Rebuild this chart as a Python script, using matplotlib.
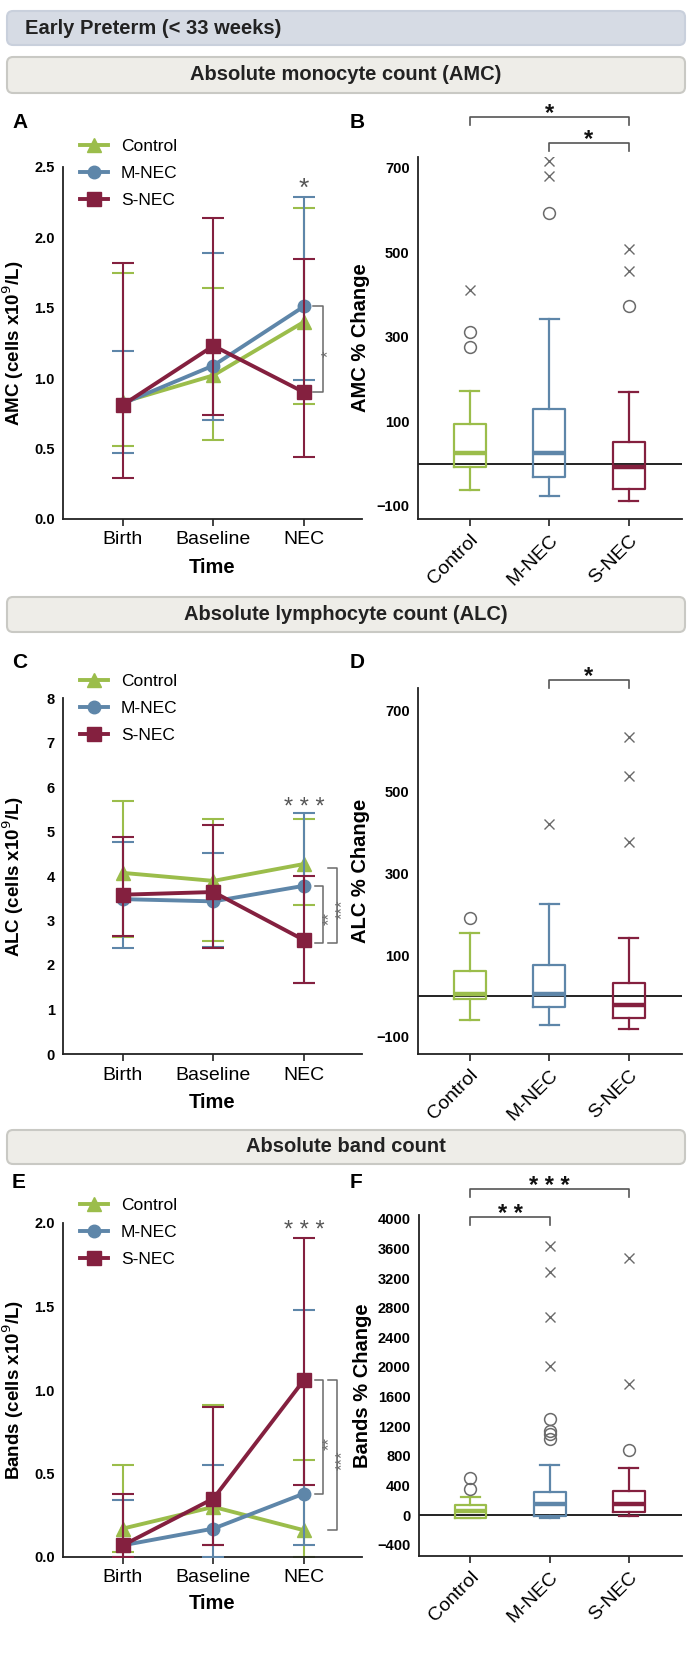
import matplotlib
matplotlib.use("Agg")
import matplotlib.pyplot as plt
from matplotlib.patches import FancyBboxPatch

plt.rcParams['font.family'] = ['Liberation Sans', 'DejaVu Sans']

W, H = 695, 1653

GREEN = '#9bbd4b'
BLUE = '#5e86a9'
MAROON = '#84203f'
GREY = '#6a6a6a'

times = ['Birth', 'Baseline', 'NEC']
groups = ['Control', 'M-NEC', 'S-NEC']

# Panel A - AMC over time (mean with low / high error bar ends)
amc_control = [0.83, 1.02, 1.40]
amc_control_lo = [0.52, 0.56, 0.82]
amc_control_hi = [1.75, 1.64, 2.21]
amc_mnec = [0.82, 1.09, 1.51]
amc_mnec_lo = [0.47, 0.70, 0.99]
amc_mnec_hi = [1.19, 1.89, 2.29]
amc_snec = [0.81, 1.23, 0.90]
amc_snec_lo = [0.29, 0.74, 0.44]
amc_snec_hi = [1.82, 2.14, 1.85]

# Panel C - ALC over time
alc_control = [4.07, 3.89, 4.27]
alc_control_lo = [2.62, 2.54, 3.35]
alc_control_hi = [5.68, 5.29, 5.29]
alc_mnec = [3.48, 3.43, 3.78]
alc_mnec_lo = [2.38, 2.40, 1.60]
alc_mnec_hi = [4.76, 4.52, 5.41]
alc_snec = [3.58, 3.64, 2.56]
alc_snec_lo = [2.65, 2.39, 1.60]
alc_snec_hi = [4.87, 5.14, 3.99]

# Panel E - bands over time
band_control = [0.17, 0.30, 0.16]
band_control_lo = [0.03, 0.07, 0.0]
band_control_hi = [0.55, 0.91, 0.58]
band_mnec = [0.07, 0.17, 0.38]
band_mnec_lo = [0.0, 0.0, 0.07]
band_mnec_hi = [0.34, 0.55, 1.48]
band_snec = [0.07, 0.35, 1.06]
band_snec_lo = [0.0, 0.07, 0.43]
band_snec_hi = [0.38, 0.90, 1.91]

# Panel B - AMC % change boxes: whislo, q1, median, q3, whishi
amc_box = [[-63, -7, 26, 94, 172],
           [-76, -31, 26, 130, 343],
           [-88, -61, -9, 51, 170]]
amc_circles = [[311, 277], [593], [373]]
amc_crosses = [[412], [717, 680], [508, 457]]

# Panel D - ALC % change
alc_box = [[-58, -7, 6, 61, 155],
           [-71, -27, 6, 76, 224],
           [-81, -54, -22, 31, 141]]
alc_circles = [[192], [], []]
alc_crosses = [[], [422], [635, 539, 376]]

# Panel F - bands % change
band_box = [[-40, -36, 54, 135, 239],
            [-45, -14, 144, 315, 680],
            [-14, 36, 144, 329, 635]]
band_circles = [[351, 505], [1297, 1130, 1090, 1030], [878]]
band_crosses = [[], [3640, 3284, 2676, 2014], [3468, 1766]]


def rect(x0, y0, x1, y1):
    return [x0 / W, 1 - y1 / H, (x1 - x0) / W, (y1 - y0) / H]


def style_axes(ax):
    for s in ['top', 'right']:
        ax.spines[s].set_visible(False)
    for s in ['left', 'bottom']:
        ax.spines[s].set_linewidth(1.3)
        ax.spines[s].set_color('#222222')
    ax.tick_params(axis='y', length=0, pad=6, labelsize=10.5)
    ax.tick_params(axis='x', length=5, width=1.2, color='#222222', pad=4)
    for lab in ax.get_yticklabels():
        lab.set_fontweight('bold')


def line_panel(ax, series, ylim, yticks, yticklabels, ylabel, legend_top):
    x = list(range(len(times)))
    for i, (name, mean, lo, hi, color, marker, ms) in enumerate(series):
        err = [[m - l for m, l in zip(mean, lo)], [h - m for m, h in zip(mean, hi)]]
        ax.errorbar(x, mean, yerr=err, fmt='none', ecolor=color, elinewidth=1.5,
                    capsize=8, capthick=1.5, zorder=2 + 2 * i)
        ax.plot(x, mean, color=color, lw=2.8, marker=marker, ms=ms, label=name,
                zorder=3 + 2 * i)
    ax.set_xlim(-0.66, 2.64)
    ax.set_ylim(*ylim)
    ax.set_yticks(yticks)
    ax.set_yticklabels(yticklabels)
    ax.set_xticks(x)
    ax.set_xticklabels(times, fontsize=14)
    style_axes(ax)
    ax.set_ylabel(ylabel, fontsize=13.5, fontweight='bold')
    ax.yaxis.set_label_coords(-0.125, 0.5)
    ax.set_xlabel('Time', fontsize=14.5, fontweight='bold')
    ax.xaxis.set_label_coords(0.5, -0.11)
    ax.legend(loc='upper left', bbox_to_anchor=(80 / W, 1 - legend_top / H),
              bbox_transform=fig.transFigure, frameon=False, fontsize=12.5,
              handlelength=1.6, handletextpad=0.75, labelspacing=0.68,
              borderpad=0, borderaxespad=0)


def star(ax, x, y, text, size, color, weight='normal', rot=0):
    ax.annotate(text, xy=(x, y), xytext=(0, -size * 0.28), textcoords='offset points',
                ha='center', va='center', fontsize=size, color=color,
                fontweight=weight, rotation=rot, annotation_clip=False)


def side_bracket(ax, x0, x1, ytop, ybot):
    ax.plot([x0, x1, x1, x0], [ytop, ytop, ybot, ybot], color=GREY, lw=1.1,
            clip_on=False, zorder=1)


def box_panel(ax, box, circles, crosses, ylim, yticks, ylabel, leg):
    colors = [GREEN, BLUE, MAROON]
    stats = []
    for name, (wlo, q1, med, q3, whi) in zip(groups, box):
        stats.append(dict(label=name, whislo=wlo, q1=q1, med=med, q3=q3,
                          whishi=whi, fliers=[]))
    ax.axhline(0, color='#111111', lw=1.3, zorder=1)
    art = ax.bxp(stats, positions=[0, 1, 2], widths=0.4, showfliers=False,
                 manage_ticks=False)
    for i, c in enumerate(colors):
        art['boxes'][i].set(color=c, lw=1.6, zorder=3)
        art['medians'][i].set(color=c, lw=3.2, zorder=4)
        for k in (2 * i, 2 * i + 1):
            art['whiskers'][k].set(color=c, lw=1.6)
            art['caps'][k].set(color=c, lw=1.6)
            art['caps'][k].set_xdata([i - 0.12, i + 0.12])
        ax.plot([i] * len(circles[i]), circles[i], ls='none', marker='o', ms=8.5,
                mfc='none', mec=GREY, mew=1.1)
        ax.plot([i] * len(crosses[i]), crosses[i], ls='none', marker='x', ms=6.5,
                color=GREY, mew=1.0)
    ax.set_xlim(-0.65, 2.67)
    ax.set_ylim(*ylim)
    ax.set_yticks(yticks)
    ax.set_xticks([0, 1, 2])
    ax.set_xticklabels(groups, fontsize=14, rotation=45, ha='right',
                       rotation_mode='anchor')
    style_axes(ax)
    ax.set_ylabel(ylabel, fontsize=14.5, fontweight='bold')
    ax.yaxis.set_label_coords(-0.18, 0.5)
    # significance brackets above the plot
    for g0, g1, yb, leg_len, txt, ys in leg:
        ax.plot([g0, g0, g1, g1], [yb - leg_len, yb, yb, yb - leg_len],
                color='#555555', lw=1.2, clip_on=False)
        star(ax, (g0 + g1) / 2, ys, txt, 17, '#111111', 'bold')


fig = plt.figure(figsize=(W / 100, H / 100), dpi=100)

# background layer for title boxes and panel letters
bg = fig.add_axes([0, 0, 1, 1], zorder=-5)
bg.set_xlim(0, W)
bg.set_ylim(H, 0)
bg.axis('off')
bg.add_patch(FancyBboxPatch((7, 11), 678, 34, boxstyle='round,pad=0,rounding_size=6',
                            fc='#d6dbe4', ec='#c9d0dc', lw=1.5))
bg.text(25, 28, 'Early Preterm (< 33 weeks)', fontsize=14.5, fontweight='bold',
        va='center', ha='left', color='#222222')
for y0, y1, title in [(57, 93, 'Absolute monocyte count (AMC)'),
                      (597, 632, 'Absolute lymphocyte count (ALC)'),
                      (1130, 1164, 'Absolute band count')]:
    bg.add_patch(FancyBboxPatch((7, y0), 678, y1 - y0, boxstyle='round,pad=0,rounding_size=6',
                                fc='#eeede8', ec='#c9c9c4', lw=1.5))
    bg.text(346, (y0 + y1) / 2, title, fontsize=14.5, fontweight='bold',
            ha='center', va='center', color='#222222')
for letter, x, y in [('A', 12, 122), ('B', 350, 122), ('C', 12, 663),
                     ('D', 350, 663), ('E', 12, 1183), ('F', 350, 1183)]:
    bg.text(x, y, letter, fontsize=15, fontweight='bold', va='center', ha='left')

# A
axA = fig.add_axes(rect(63, 167, 362, 519))
line_panel(axA, [('Control', amc_control, amc_control_lo, amc_control_hi, GREEN, '^', 10),
                 ('M-NEC', amc_mnec, amc_mnec_lo, amc_mnec_hi, BLUE, 'o', 9),
                 ('S-NEC', amc_snec, amc_snec_lo, amc_snec_hi, MAROON, 's', 10)],
           (0, 2.5), [0, 0.5, 1.0, 1.5, 2.0, 2.5], ['0.0', '0.5', '1.0', '1.5', '2.0', '2.5'],
           'AMC (cells x10$^9$/L)', 139)
star(axA, 2, 2.40, '*', 19, '#555555')
side_bracket(axA, 2.10, 2.21, amc_mnec[2], amc_snec[2])
star(axA, 2.27, (amc_mnec[2] + amc_snec[2]) / 2, '*', 12, GREY, rot=90)

# B
axB = fig.add_axes(rect(418, 157, 682, 519))
box_panel(axB, amc_box, amc_circles, amc_crosses, (-131, 726),
          [-100, 100, 300, 500, 700], 'AMC % Change',
          [(0, 2, 821, 19, '*', 845), (1, 2, 759, 19, '*', 783)])

# C
axC = fig.add_axes(rect(63, 698, 362, 1054))
line_panel(axC, [('Control', alc_control, alc_control_lo, alc_control_hi, GREEN, '^', 10),
                 ('M-NEC', alc_mnec, alc_mnec_lo, alc_mnec_hi, BLUE, 'o', 9),
                 ('S-NEC', alc_snec, alc_snec_lo, alc_snec_hi, MAROON, 's', 10)],
           (0, 8), list(range(9)), [str(v) for v in range(9)],
           'ALC (cells x10$^9$/L)', 674)
star(axC, 2, 5.68, '* * *', 17, '#555555')
side_bracket(axC, 2.12, 2.21, alc_mnec[2], alc_snec[2] - 0.07)
side_bracket(axC, 2.26, 2.36, alc_control[2] - 0.09, alc_snec[2] - 0.07)
star(axC, 2.28, 3.15, '**', 12, GREY, rot=90)
star(axC, 2.42, 3.35, '***', 12, GREY, rot=90)

# D
axD = fig.add_axes(rect(418, 688, 682, 1054))
box_panel(axD, alc_box, alc_circles, alc_crosses, (-142, 754),
          [-100, 100, 300, 500, 700], 'ALC % Change',
          [(1, 2, 773, 20, '*', 798)])

# E
axE = fig.add_axes(rect(63, 1223, 362, 1557))
line_panel(axE, [('Control', band_control, band_control_lo, band_control_hi, GREEN, '^', 10),
                 ('M-NEC', band_mnec, band_mnec_lo, band_mnec_hi, BLUE, 'o', 9),
                 ('S-NEC', band_snec, band_snec_lo, band_snec_hi, MAROON, 's', 10)],
           (0, 2.0), [0, 0.5, 1.0, 1.5, 2.0], ['0.0', '0.5', '1.0', '1.5', '2.0'],
           'Bands (cells x10$^9$/L)', 1198)
star(axE, 2, 1.99, '* * *', 17, '#555555')
side_bracket(axE, 2.12, 2.21, band_snec[2], band_mnec[2])
side_bracket(axE, 2.26, 2.36, band_snec[2], band_control[2])
star(axE, 2.28, 0.71, '**', 12, GREY, rot=90)
star(axE, 2.42, 0.61, '***', 12, GREY, rot=90)

# F
axF = fig.add_axes(rect(419, 1215, 682, 1556))
box_panel(axF, band_box, band_circles, band_crosses, (-554, 4054),
          list(range(-400, 4001, 400)), 'Bands % Change',
          [(0, 1, 4027, 108, '* *', 4150), (0, 2, 4405, 108, '* * *', 4530)])

fig.savefig('out.png', dpi=100)
